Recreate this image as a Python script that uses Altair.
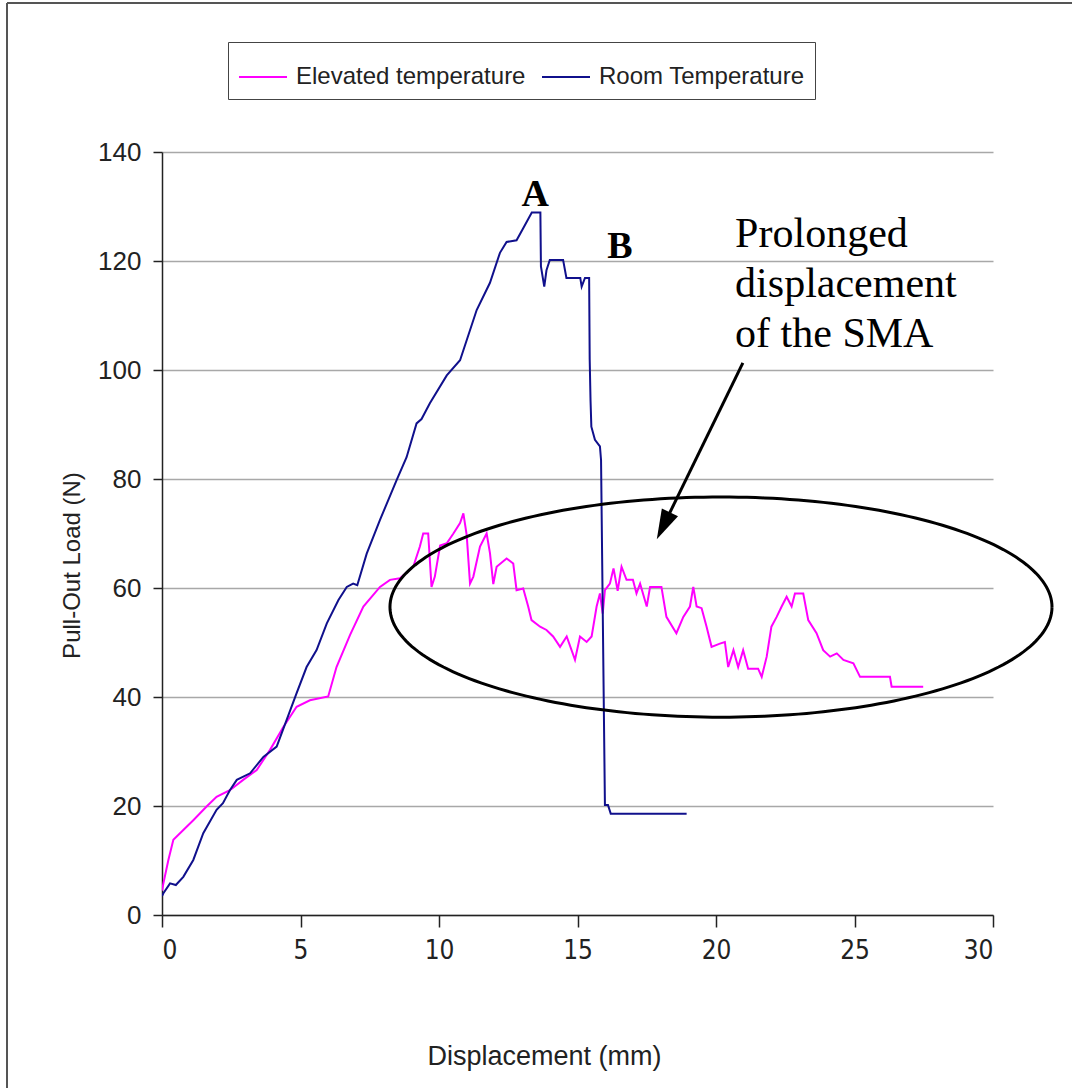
import altair as alt
import numpy as np
import pandas as pd

# Pull-out test curves: displacement (mm) vs load (N)
ELEV_X = [0, 0.05, 0.23, 0.41, 0.77, 1.13, 1.61, 1.97, 2.45, 2.93,
          3.42, 3.9, 4.38, 4.86, 5.34, 6.0, 6.3, 6.79, 7.27, 7.87,
          8.23, 8.59, 9.07, 9.31, 9.43, 9.61, 9.73, 9.85, 10.04, 10.28,
          10.52, 10.76, 10.88, 11.0, 11.12, 11.24, 11.48, 11.66, 11.72, 11.84,
          11.96, 12.08, 12.44, 12.68, 12.8, 13.04, 13.22, 13.34, 13.65, 13.88,
          14.12, 14.37, 14.61, 14.91, 15.09, 15.33, 15.51, 15.69, 15.81, 15.91,
          15.99, 16.17, 16.3, 16.45, 16.59, 16.77, 17.0, 17.13, 17.26, 17.5,
          17.62, 18.03, 18.21, 18.57, 18.82, 19.06, 19.18, 19.3, 19.48, 19.66,
          19.84, 20.14, 20.32, 20.44, 20.63, 20.8, 20.98, 21.16, 21.52, 21.65,
          21.83, 22.0, 22.19, 22.37, 22.55, 22.73, 22.85, 23.15, 23.33, 23.63,
          23.87, 24.12, 24.36, 24.6, 24.96, 25.2, 26.28, 26.34, 27.48]
ELEV_Y = [4.5, 5.8, 10.1, 13.8, 15.6, 17.4, 19.9, 21.7, 22.9, 24.8,
          26.6, 30.3, 34.5, 38.2, 39.4, 40.1, 45.5, 51.4, 56.6, 60.2,
          61.5, 61.8, 63.9, 67.6, 70, 70, 60.2, 62.1, 67.8, 68.2,
          70, 71.9, 73.7, 69.7, 60.8, 62.1, 67.6, 69.4, 70, 66.4,
          60.7, 63.9, 65.4, 64.5, 59.6, 59.9, 56.6, 54.1, 52.9, 52.3,
          51.1, 49.2, 51.1, 46.8, 51.1, 50.1, 51.1, 56.6, 59, 55.3,
          59.6, 60.8, 63.6, 59.5, 63.9, 61.5, 61.5, 59, 60.8, 56.6,
          60.2, 60.2, 54.7, 51.7, 54.7, 56.6, 60.2, 56.6, 56.3, 52.9,
          49.2, 49.8, 50.1, 45.5, 48.6, 45.5, 48.6, 45.2, 45.2, 43.7,
          47.4, 52.9, 54.7, 56.6, 58.4, 56.6, 59, 59, 54.1, 51.7,
          48.6, 47.4, 48, 46.8, 46.2, 43.7, 43.7, 41.9, 41.9]

ROOM_X = [0, 0.05, 0.29, 0.5, 0.77, 1.13, 1.49, 1.97, 2.2, 2.45,
          2.7, 3.18, 3.66, 4.14, 4.5, 4.86, 5.22, 5.58, 5.95, 6.37,
          6.67, 6.9, 7.05, 7.39, 7.87, 8.47, 8.83, 9.19, 9.37, 9.67,
          10.28, 10.76, 11.36, 11.84, 12.2, 12.44, 12.8, 13.04, 13.35, 13.66,
          13.68, 13.8, 13.88, 14.0, 14.48, 14.6, 15.1, 15.15, 15.27, 15.42,
          15.44, 15.47, 15.5, 15.63, 15.81, 15.85, 15.99, 16.1, 16.2, 18.94]
ROOM_Y = [3.5, 4.0, 5.8, 5.5, 7.0, 10.1, 15, 19.3, 20.5, 22.9,
          24.8, 26, 29, 30.9, 35.8, 40.7, 45.5, 48.6, 53.5, 57.8,
          60.2, 60.8, 60.5, 66.3, 72.5, 79.8, 84, 90.2, 91, 93.9,
          99, 101.8, 111, 116, 121.5, 123.5, 123.8, 126, 128.9, 128.9,
          119, 115.3, 118.3, 120.2, 120.2, 116.9, 116.9, 115.3, 116.9, 116.9,
          102, 94.5, 89.6, 87.2, 86, 83.5, 20.2, 20.2, 18.6, 18.6]

SERIES = ["Elevated temperature", "Room Temperature"]
COLORS = ["#ff00ff", "#10108c"]

X_TICKS = [0, 5, 10, 15, 20, 25, 30]
Y_TICKS = [0, 20, 40, 60, 80, 100, 120, 140]

# Annotation geometry (data units)
ELLIPSE_CENTER = (20.18, 56.5)
ELLIPSE_RADII = (11.95, 20.2)
ARROW_START = (20.97, 101.3)
ARROW_END = (18.1, 71.4)

SANS = "Liberation Sans"
CONDENSED = "DejaVu Sans Condensed, Liberation Sans Narrow, Liberation Sans"
SERIF = "Liberation Serif"

rows = []
for name, xs, ys in [(SERIES[0], ELEV_X, ELEV_Y), (SERIES[1], ROOM_X, ROOM_Y)]:
    for i, (xv, yv) in enumerate(zip(xs, ys)):
        rows.append({"disp": xv, "load": yv, "series": name, "i": i})
curves = pd.DataFrame(rows)

x_scale = alt.Scale(domain=[0, 30], nice=False, zero=False)
y_scale = alt.Scale(domain=[0, 140], nice=False)

x_enc = alt.X("disp:Q", scale=x_scale, title="Displacement (mm)",
              axis=alt.Axis(values=X_TICKS, grid=False, tickSize=12, tickWidth=1.5,
                            tickColor="#222", domainColor="#222", domainWidth=1.5,
                            labelFont=CONDENSED, labelFontSize=26, labelColor="#222",
                            labelPadding=10, titleFont=SANS, titleFontSize=27,
                            titleFontWeight="normal", titleColor="#222", titlePadding=80,
                            titleX=382, titleAlign="center"))
y_enc = alt.Y("load:Q", scale=y_scale, title="Pull-Out Load (N)",
              axis=alt.Axis(values=Y_TICKS, grid=True, gridColor="#a8a8a8", gridWidth=1.5,
                            tickSize=9, tickWidth=1.5, tickColor="#222", domainColor="#222",
                            domainWidth=1.5, labelFont=SANS, labelFontSize=26,
                            labelColor="#222", labelPadding=12, titleFont=SANS,
                            titleFontSize=24, titleFontWeight="normal", titleColor="#222",
                            titleAngle=270, titleX=-90, titleY=413, titleAlign="center",
                            titleBaseline="middle"))

lines = alt.Chart(curves).mark_line(strokeWidth=2, clip=True).encode(
    x=x_enc,
    y=y_enc,
    order="i:Q",
    color=alt.Color("series:N", scale=alt.Scale(domain=SERIES, range=COLORS),
                    legend=alt.Legend(orient="none", legendX=66, legendY=-110,
                                      direction="horizontal", title=None,
                                      symbolType="stroke", symbolSize=2304,
                                      symbolStrokeWidth=2, labelFont=SANS,
                                      labelFontSize=24, labelColor="#222",
                                      labelLimit=400, labelOffset=8,
                                      columnPadding=12, padding=10,
                                      strokeColor="#444", fillColor="white")),
)

# Ellipse around the prolonged-displacement region
t = np.linspace(0, 2 * np.pi, 241)
ellipse = pd.DataFrame({
    "disp": ELLIPSE_CENTER[0] + ELLIPSE_RADII[0] * np.cos(t),
    "load": ELLIPSE_CENTER[1] + ELLIPSE_RADII[1] * np.sin(t),
    "i": np.arange(len(t)),
})
ellipse_layer = alt.Chart(ellipse).mark_line(color="black", strokeWidth=3, clip=False).encode(
    x=alt.X("disp:Q", scale=x_scale), y=alt.Y("load:Q", scale=y_scale), order="i:Q")

arrow = pd.DataFrame([{"x1": ARROW_START[0], "y1": ARROW_START[1],
                       "x2": ARROW_END[0], "y2": ARROW_END[1]}])
shaft = alt.Chart(arrow).mark_rule(color="black", strokeWidth=3).encode(
    x=alt.X("x1:Q", scale=x_scale), y=alt.Y("y1:Q", scale=y_scale), x2="x2:Q", y2="y2:Q")
head = alt.Chart(arrow).mark_point(
    shape="M0,-1L0.6,1L-0.6,1Z", size=900, angle=206, filled=True,
    color="black", opacity=1, strokeWidth=0).encode(
    x=alt.X("x2:Q", scale=x_scale), y=alt.Y("y2:Q", scale=y_scale))

points = pd.DataFrame([{"disp": 13.47, "load": 130.1, "label": "A"},
                       {"disp": 16.53, "load": 120.6, "label": "B"}])
point_labels = alt.Chart(points).mark_text(
    font=SERIF, fontSize=38, fontWeight="bold", color="black",
    align="center", baseline="alphabetic").encode(
    x=alt.X("disp:Q", scale=x_scale), y=alt.Y("load:Q", scale=y_scale), text="label:N")

note = pd.DataFrame([{"disp": 20.69, "load": 122.6,
                      "label": "Prolonged\ndisplacement\nof the SMA"}])
note_layer = alt.Chart(note).mark_text(
    font=SERIF, fontSize=42, color="black", align="left", baseline="alphabetic",
    lineBreak="\n", lineHeight=50).encode(
    x=alt.X("disp:Q", scale=x_scale), y=alt.Y("load:Q", scale=y_scale), text="label:N")

# Outer frame edges (top and left)
frame_src = alt.Data(values=[{}])
frame_left = alt.Chart(frame_src).mark_rule(color="#555", strokeWidth=2).encode(
    x=alt.value(-155), y=alt.value(-149), y2=alt.value(940))
frame_top = alt.Chart(frame_src).mark_rule(color="#555", strokeWidth=2).encode(
    x=alt.value(-155), x2=alt.value(915), y=alt.value(-149))

chart = alt.layer(
    lines, ellipse_layer, shaft, head, point_labels, note_layer, frame_left, frame_top
).properties(
    width=831, height=763,
    autosize=alt.AutoSizeParams(type="none"),
    padding={"left": 162, "top": 152, "right": 79, "bottom": 173},
    background="white",
).configure_view(stroke=None)

chart.save("out.html", embed_options={"renderer": "svg", "actions": False})
